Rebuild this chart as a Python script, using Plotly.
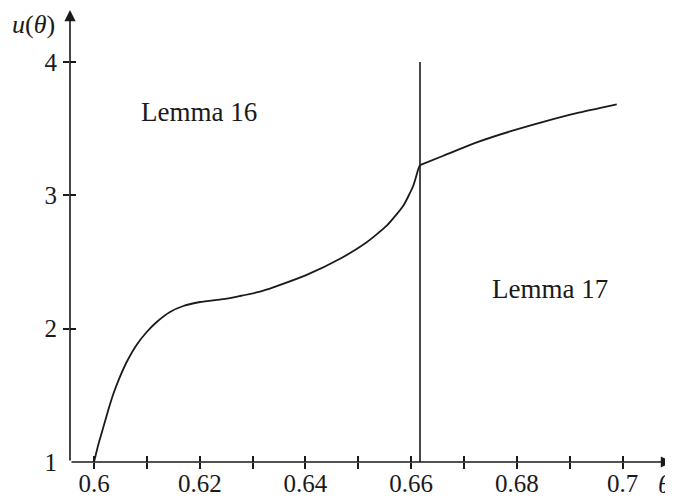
import plotly.graph_objects as go

# Curve (theta, u)
left_theta = [0.6, 0.60081, 0.60176, 0.6027, 0.60365, 0.60492, 0.60618, 0.60808, 0.60997,
              0.61186, 0.61437, 0.61689, 0.62005, 0.6251, 0.62762, 0.63140, 0.63391,
              0.64023, 0.64653, 0.65158, 0.65536, 0.6585, 0.66039, 0.66134, 0.66166]
left_u = [1.0, 1.13, 1.26, 1.39, 1.51, 1.64, 1.75, 1.88, 1.975,
          2.05, 2.125, 2.17, 2.2, 2.225, 2.245, 2.278, 2.31,
          2.403, 2.524, 2.648, 2.772, 2.922, 3.072, 3.197, 3.227]
right_theta = [0.66166, 0.66607, 0.67239, 0.67868, 0.68498, 0.6913, 0.69887]
right_u = [3.227, 3.297, 3.397, 3.479, 3.551, 3.616, 3.682]
split_theta = 0.66166
split_u = [1, 4]

x_tickvals = [0.60, 0.61, 0.62, 0.63, 0.64, 0.65, 0.66, 0.67, 0.68, 0.69, 0.70]
x_ticktext = ["0.6", "", "0.62", "", "0.64", "", "0.66", "", "0.68", "", "0.7"]
y_labelvals = [1, 2, 3, 4]
y_tickvals = [2, 3, 4]

X_MIN, X_MAX = 0.59546, 0.70932
Y_MIN, Y_MAX = 1.0, 4.39

FONT = "Liberation Serif"
INK = "#1a1a1a"

# The page body adds an 8px offset, so the figure is sized to the remaining window.
OFF = 8
W, H = 665, 492
l, r, t, b = 62, 1, 2, 38

fig = go.Figure()
fig.add_trace(go.Scatter(x=left_theta, y=left_u, mode="lines", line=dict(color=INK, width=1.8, shape="spline", smoothing=0.5),
                         cliponaxis=False, showlegend=False, hoverinfo="skip"))
fig.add_trace(go.Scatter(x=right_theta, y=right_u, mode="lines", line=dict(color=INK, width=1.8, shape="spline", smoothing=0.5),
                         cliponaxis=False, showlegend=False, hoverinfo="skip"))
fig.add_trace(go.Scatter(x=[split_theta, split_theta], y=split_u, mode="lines", line=dict(color=INK, width=1.6),
                         cliponaxis=False, showlegend=False, hoverinfo="skip"))
# invisible traces to activate tick overlay axes
fig.add_trace(go.Scatter(x=[X_MIN], y=[Y_MIN], xaxis="x2", yaxis="y2", mode="markers", marker=dict(opacity=0),
                         showlegend=False, hoverinfo="skip"))
fig.add_trace(go.Scatter(x=[X_MIN], y=[Y_MIN], xaxis="x2", yaxis="y3", mode="markers", marker=dict(opacity=0),
                         showlegend=False, hoverinfo="skip"))

axis_font = dict(family=FONT, size=25, color=INK)
fig.update_layout(
    width=W, height=H,
    margin=dict(l=l, r=r, t=t, b=b, autoexpand=False),
    paper_bgcolor="white", plot_bgcolor="white",
    xaxis=dict(range=[X_MIN, X_MAX], tickvals=x_tickvals, ticktext=x_ticktext, ticks="outside", ticklen=6,
               tickwidth=1.5, tickcolor=INK, showgrid=False, zeroline=False, showline=False,
               tickfont=axis_font, ticklabelstandoff=-7, automargin=False),
    xaxis2=dict(range=[X_MIN, X_MAX], overlaying="x", anchor="y", side="bottom", tickvals=x_tickvals,
                ticks="inside", ticklen=6, tickwidth=1.5, tickcolor=INK, showticklabels=False,
                showgrid=False, zeroline=False, showline=False, automargin=False),
    yaxis=dict(range=[Y_MIN, Y_MAX], tickvals=y_labelvals, ticks="", showgrid=False, zeroline=False,
               showline=False, tickfont=axis_font, ticklabelstandoff=12, automargin=False),
    yaxis2=dict(range=[Y_MIN, Y_MAX], overlaying="y", anchor="x", side="left", tickvals=y_tickvals,
                ticks="outside", ticklen=6, tickwidth=1.5, tickcolor=INK, showticklabels=False,
                showgrid=False, zeroline=False, showline=False, automargin=False),
    yaxis3=dict(range=[Y_MIN, Y_MAX], overlaying="y", anchor="x", side="left", tickvals=y_tickvals,
                ticks="inside", ticklen=6, tickwidth=1.5, tickcolor=INK, showticklabels=False,
                showgrid=False, zeroline=False, showline=False, automargin=False),
)

# axis lines with arrowheads
fig.add_annotation(x=X_MAX, y=Y_MIN, ax=X_MIN, ay=Y_MIN, xref="x", yref="y", axref="x", ayref="y",
                   showarrow=True, arrowhead=2, arrowsize=1.4, arrowwidth=1.6, arrowcolor=INK, text="")
fig.add_annotation(x=X_MIN, y=Y_MAX, ax=X_MIN, ay=Y_MIN, xref="x", yref="y", axref="x", ayref="y",
                   showarrow=True, arrowhead=2, arrowsize=1.4, arrowwidth=1.6, arrowcolor=INK, text="")

# texts
fig.add_annotation(x=0.6199, y=3.626, xref="x", yref="y", text="Lemma 16", showarrow=False,
                   xanchor="center", yanchor="middle", font=dict(family=FONT, size=27, color=INK))
fig.add_annotation(x=0.6863, y=2.294, xref="x", yref="y", text="Lemma 17", showarrow=False,
                   xanchor="center", yanchor="middle", font=dict(family=FONT, size=27, color=INK))
# window-pixel placed labels
fig.add_annotation(x=33, y=24, xref="paper", yref="paper", text="<i>u</i>(<i>θ</i>)", showarrow=False,
                   xanchor="center", yanchor="middle", font=dict(family=FONT, size=26, color=INK))
fig.add_annotation(x=657, y=484, xref="paper", yref="paper", text="<i>θ</i>", showarrow=False,
                   xanchor="left", yanchor="middle", borderpad=0, font=dict(family=FONT, size=26, color=INK))

pw, ph = W - l - r, H - t - b
for ann in fig.layout.annotations:
    if ann.xref == "paper":
        ann.x = (ann.x - OFF - l) / pw
        ann.y = 1 - (ann.y - OFF - t) / ph

fig.write_html("out.html")
